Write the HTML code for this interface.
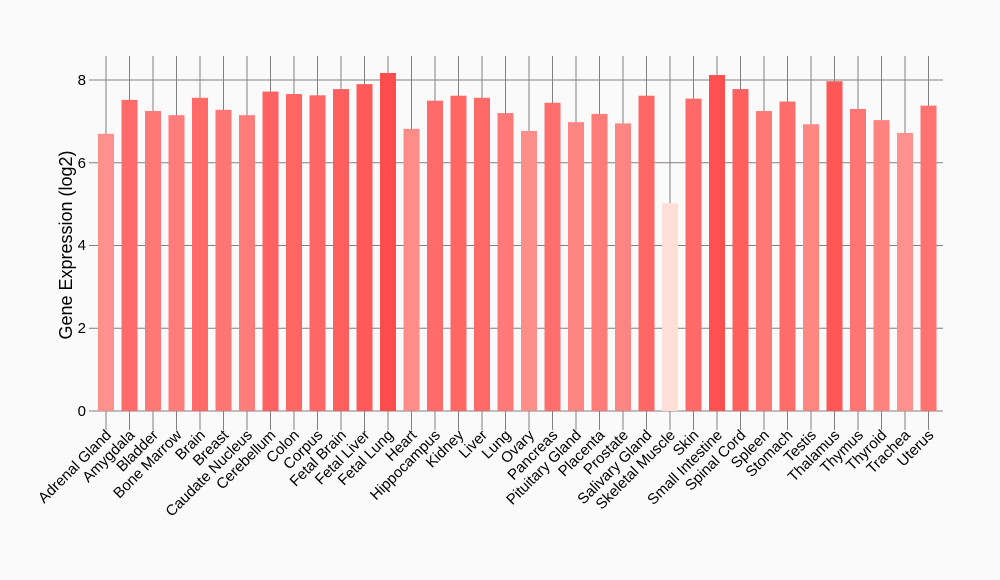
<!DOCTYPE html>
<html><head><meta charset="utf-8"><style>
html,body{margin:0;padding:0;background:#fafafa;}
svg{display:block;font-family:"Liberation Sans",Arial,sans-serif;}
</style></head><body>
<svg id="s" width="1000" height="580" xmlns="http://www.w3.org/2000/svg">
<rect width="1000" height="580" fill="#fafafa"/>
<g id="grid" stroke="#808080" stroke-width="1"></g>
<g id="bars"></g>
<g font-size="15" fill="#000" text-anchor="end">
<text x="86" y="416">0</text>
<text x="86" y="333">2</text>
<text x="86" y="250">4</text>
<text x="86" y="168">6</text>
<text x="86" y="85">8</text>
</g>
<text transform="translate(72,245) rotate(-90)" text-anchor="middle" font-size="18">Gene Expression (log2)</text>
<g font-size="15" text-anchor="end">
<text transform="translate(112,436) rotate(-45)">Adrenal Gland</text>
<text transform="translate(135.5,436) rotate(-45)">Amygdala</text>
<text transform="translate(159,436) rotate(-45)">Bladder</text>
<text transform="translate(182.5,436) rotate(-45)">Bone Marrow</text>
<text transform="translate(206,436) rotate(-45)">Brain</text>
<text transform="translate(229.5,436) rotate(-45)">Breast</text>
<text transform="translate(253,436) rotate(-45)">Caudate Nucleus</text>
<text transform="translate(276.5,436) rotate(-45)">Cerebellum</text>
<text transform="translate(300,436) rotate(-45)">Colon</text>
<text transform="translate(323.5,436) rotate(-45)">Corpus</text>
<text transform="translate(347,436) rotate(-45)">Fetal Brain</text>
<text transform="translate(370.5,436) rotate(-45)">Fetal Liver</text>
<text transform="translate(394,436) rotate(-45)">Fetal Lung</text>
<text transform="translate(417.5,436) rotate(-45)">Heart</text>
<text transform="translate(441,436) rotate(-45)">Hippocampus</text>
<text transform="translate(464.5,436) rotate(-45)">Kidney</text>
<text transform="translate(488,436) rotate(-45)">Liver</text>
<text transform="translate(511.5,436) rotate(-45)">Lung</text>
<text transform="translate(535,436) rotate(-45)">Ovary</text>
<text transform="translate(558.5,436) rotate(-45)">Pancreas</text>
<text transform="translate(582,436) rotate(-45)">Pituitary Gland</text>
<text transform="translate(605.5,436) rotate(-45)">Placenta</text>
<text transform="translate(629,436) rotate(-45)">Prostate</text>
<text transform="translate(652.5,436) rotate(-45)">Salivary Gland</text>
<text transform="translate(676,436) rotate(-45)">Skeletal Muscle</text>
<text transform="translate(699.5,436) rotate(-45)">Skin</text>
<text transform="translate(723,436) rotate(-45)">Small Intestine</text>
<text transform="translate(746.5,436) rotate(-45)">Spinal Cord</text>
<text transform="translate(770,436) rotate(-45)">Spleen</text>
<text transform="translate(793.5,436) rotate(-45)">Stomach</text>
<text transform="translate(817,436) rotate(-45)">Testis</text>
<text transform="translate(840.5,436) rotate(-45)">Thalamus</text>
<text transform="translate(864,436) rotate(-45)">Thymus</text>
<text transform="translate(887.5,436) rotate(-45)">Thyroid</text>
<text transform="translate(911,436) rotate(-45)">Trachea</text>
<text transform="translate(934.5,436) rotate(-45)">Uterus</text>
</g>
</svg>
<script>
var v=[6.7,7.52,7.25,7.15,7.57,7.28,7.15,7.72,7.66,7.63,7.78,7.9,8.17,6.82,7.5,7.62,7.57,7.2,6.77,7.45,6.98,7.18,6.95,7.62,5.02,7.55,8.12,7.78,7.25,7.48,6.93,7.97,7.3,7.03,6.72,7.38];
var NS="http://www.w3.org/2000/svg",g=document.getElementById('grid'),b=document.getElementById('bars');
function L(x1,y1,x2,y2){var l=document.createElementNS(NS,'line');l.setAttribute('x1',x1);l.setAttribute('y1',y1);l.setAttribute('x2',x2);l.setAttribute('y2',y2);g.appendChild(l);}
for(var k=0;k<=4;k++){var y=411-k*2*41.375;L(93,y,943,y);L(89,y,93,y);}
for(var i=0;i<36;i++){var c=106+23.5*i;L(c,56,c,430);
var t=(v[i]-5)/(8.17-5);t=Math.max(0,Math.min(1,t));
var r=Math.round(253+2*t),gg=Math.round(224-147*t),bb=Math.round(216-139*t);
var h=v[i]*41.375,rc=document.createElementNS(NS,'rect');
rc.setAttribute('x',c-8);rc.setAttribute('width',16);rc.setAttribute('y',411-h);rc.setAttribute('height',h);
rc.setAttribute('fill','rgb('+r+','+gg+','+bb+')');b.appendChild(rc);}
L(93,411,943,411);
</script>
</body></html>
